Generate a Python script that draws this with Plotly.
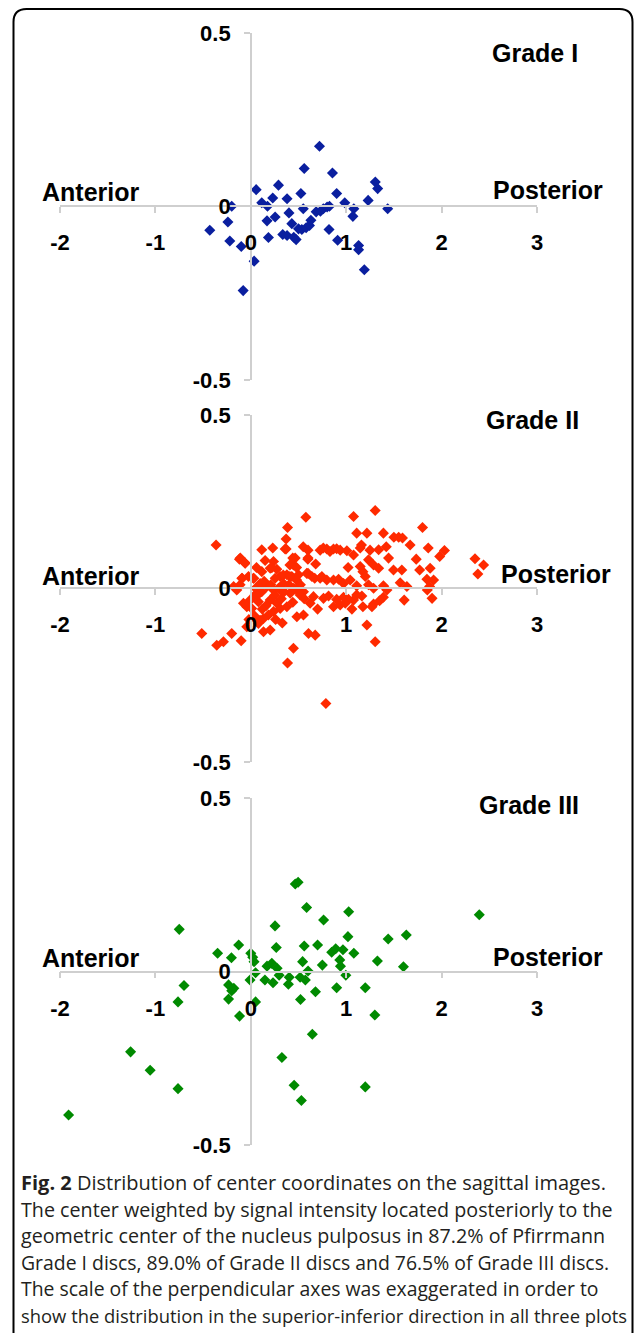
import plotly.graph_objects as go

W, H = 634, 1333

# ---------------- data ----------------
grade1_x = [-0.43, -0.24, -0.20, -0.22, -0.10, -0.08, 0.035, 0.056, 0.115, 0.175, 0.17, 0.185,
            0.23, 0.255, 0.29, 0.335, 0.38, 0.40, 0.38, 0.43, 0.45, 0.475, 0.50, 0.525, 0.55,
            0.535, 0.56, 0.58, 0.615, 0.63, 0.685, 0.73, 0.72, 0.76, 0.80, 0.825, 0.82, 0.856,
            0.90, 0.91, 0.985, 1.08, 1.07, 1.13, 1.13, 1.19, 1.23, 1.305, 1.33, 1.435]
grade1_y = [-0.069, -0.045, 0.0, -0.10, -0.116, -0.243, -0.158, 0.048, 0.01, 0.0, -0.042, -0.09,
            0.024, -0.031, 0.061, -0.081, 0.022, -0.019, -0.084, -0.05, -0.089, -0.096, -0.065,
            0.037, -0.007, -0.067, 0.109, -0.062, -0.055, -0.04, -0.016, -0.014, 0.173, -0.007,
            -0.002, 0.0, -0.067, 0.096, 0.037, -0.098, 0.01, -0.007, -0.029, -0.113, -0.125,
            -0.183, 0.017, 0.07, 0.051, -0.007]

grade2_x = [1.304, 1.077, 0.577, 0.385, 1.80, 1.11, 1.217, 1.39, 1.50, 1.55, 1.59, 0.37, -0.364,
            1.67, 1.16, 1.86, 0.37, 0.115, 0.23, 0.55, 0.727, 0.797, 0.867, 0.937, 1.007, 1.077,
            1.147, 1.34, 2.03, 1.98, 2.35, 2.44, 2.38, -0.119, -0.059, 0.238, 0.465, 0.447, 0.598,
            1.234, 1.287, 1.34, 1.444, 1.734, 1.88, 1.77, 1.496, 1.583, 1.147, 1.175, 0.203, 0.273,
            0.115, 0.028, -0.024, -0.094, -0.112, -0.147, -0.18, 0.308, 0.378, 0.43, 0.50, 0.587,
            0.64, 0.727, 0.797, 0.867, 0.92, 0.972, 1.042, 1.11, 1.20, 1.234, 1.287, 1.39, 1.427,
            1.566, 1.636, 1.846, 1.916, 1.874, 1.85, 1.90, 1.608, 1.39, 1.35, 1.287, 1.27, 1.164,
            1.11, 1.077, 1.024, 0.972, 0.90, 1.175, 1.217, 1.304, 0.762, 0.815, 0.867, 0.937, 0.99,
            0.622, 0.657, 0.552, 0.483, 0.413, 0.517, 0.343, 0.308, 0.238, 0.168, 0.115, 0.098,
            0.203, 0.273, 0.308, 0.378, 0.238, 0.185, 0.133, 0.098, -0.007, 0.045, 0.08, 0.01,
            -0.042, -0.077, 0.08, -0.042, 0.133, 0.203, 0.483, 0.552, 0.605, 0.675, 0.447, 0.385,
            0.787, -0.514, -0.357, -0.287, -0.20, -0.101, 0.36, 0.60, 0.60, 0.76, 0.83, 0.90,
            -0.11, -0.06, 0.22, 0.44, 0.41, 0.03, -0.09, 0.255, 0.34, 0.41, 0.48, 0.60, 0.67, 0.745,
            0.05, 0.07, 0.14, 0.16, 0.21, 0.25, 0.29, 0.32, 0.35, 0.40, 0.45, 0.52, 0.56, 0.44,
            0.12, 0.26, 0.33, 0.06, 0.15, 0.48, 0.68, 1.02, 1.25, 1.42, 1.06, 0.70, 0.04, -0.02]
grade2_y = [0.224, 0.207, 0.205, 0.175, 0.175, 0.159, 0.159, 0.159, 0.147, 0.147, 0.145, 0.142,
            0.125, 0.125, 0.125, 0.116, 0.113, 0.111, 0.116, 0.120, 0.11, 0.113, 0.113, 0.11, 0.108,
            0.096, 0.116, 0.111, 0.109, 0.092, 0.085, 0.067, 0.041, 0.084, 0.072, 0.077, 0.087,
            0.067, 0.084, 0.082, 0.067, 0.058, 0.087, 0.084, 0.058, 0.053, 0.053, 0.053, 0.063,
            0.048, 0.058, 0.055, 0.048, 0.029, 0.034, 0.029, 0.01, -0.005, 0.005, 0.034, 0.039,
            0.034, 0.039, 0.043, 0.034, 0.029, 0.024, 0.024, 0.026, 0.014, 0.024, 0.007, 0.034,
            0.01, 0.0, 0.007, -0.005, 0.016, 0.005, 0.026, 0.024, 0.005, -0.005, -0.029, -0.034,
            -0.026, -0.036, -0.045, -0.053, -0.022, -0.019, -0.034, -0.032, -0.026, -0.032, -0.053,
            -0.106, -0.154, -0.029, -0.022, -0.053, -0.048, -0.043, -0.043, -0.024, -0.01, -0.005,
            -0.014, -0.019, 0.014, -0.005, -0.005, 0.005, -0.01, 0.014, -0.034, -0.043, -0.058,
            -0.053, -0.067, -0.077, -0.087, -0.092, -0.034, -0.019, -0.039, -0.058, -0.053, -0.043,
            -0.101, -0.111, -0.125, -0.12, -0.082, -0.077, -0.13, -0.135, -0.173, -0.215, -0.332,
            -0.13, -0.164, -0.154, -0.13, -0.151, 0.113, 0.11, 0.087, 0.116, 0.106, 0.114, 0.087,
            0.073, 0.059, 0.087, 0.067, 0.029, 0.029, 0.029, 0.038, 0.034, 0.024, 0.043, 0.029, 0.034,
            0.0, -0.02, 0.02, -0.05, 0.01, -0.02, 0.0, -0.03, -0.01, 0.01, 0.0, 0.01, -0.03, -0.04,
            -0.06, -0.09, -0.1, 0.06, 0.08, 0.06, 0.07, 0.06, 0.11, 0.12, -0.06, -0.06, -0.08, -0.09]

grade3_x = [-1.91, -1.26, -1.055, -0.763, -0.75, -0.70, -0.763, -0.348, -0.203, -0.127, -0.233,
            -0.20, -0.178, -0.233, -0.118, 0.0, 0.02, 0.034, 0.05, -0.008, 0.05, 0.148, 0.17, 0.22,
            0.233, 0.254, 0.267, 0.276, 0.297, 0.326, 0.403, 0.394, 0.454, 0.466, 0.496, 0.517,
            0.521, 0.53, 0.543, 0.56, 0.572, 0.585, 0.60, 0.645, 0.678, 0.70, 0.75, 0.763, 0.848,
            0.89, 0.90, 0.933, 0.94, 0.966, 0.996, 1.018, 1.026, 1.08, 1.20, 1.20, 1.30, 1.327,
            1.44, 1.60, 1.63, 2.395]
grade3_y = [-0.413, -0.231, -0.284, -0.337, 0.122, -0.040, -0.087, 0.053, 0.040, 0.077, -0.038,
            -0.055, -0.048, -0.079, -0.128, 0.053, 0.042, 0.029, -0.003, -0.024, -0.087, -0.024,
            0.016, 0.024, -0.032, 0.132, 0.070, 0.010, -0.010, -0.247, -0.016, -0.036, -0.327,
            0.253, 0.258, -0.016, -0.080, -0.371, 0.029, 0.074, -0.024, 0.185, 0.002, -0.18,
            -0.058, 0.077, 0.019, 0.149, 0.056, 0.066, -0.046, 0.034, 0.016, 0.063, -0.01, 0.101,
            0.173, 0.053, -0.046, -0.332, -0.125, 0.031, 0.094, 0.014, 0.106, 0.164]

grade_names = ["Grade I", "Grade II", "Grade III"]
colors = ["#0a1f9f", "#ff2a00", "#008a00"]
x_ticks = [-2, -1, 0, 1, 2, 3]
x_tick_labels = ["-2", "-1", "0", "1", "2", "3"]
y_ticks = [-0.5, 0, 0.5]
y_tick_labels = ["-0.5", "0", "0.5"]
x_range = [-2, 3]
y_range = [-0.5, 0.5]

caption_lines = [
    "<b>Fig. 2</b> Distribution of center coordinates on the sagittal images.",
    "The center weighted by signal intensity located posteriorly to the",
    "geometric center of the nucleus pulposus in 87.2% of Pfirrmann",
    "Grade I discs, 89.0% of Grade II discs and 76.5% of Grade III discs.",
    "The scale of the perpendicular axes was exaggerated in order to",
    "show the distribution in the superior-inferior direction in all three plots",
]
caption_sizes = [20, 19.7, 19.7, 19.4, 19.4, 18.4]

# ---------------- layout geometry (pixels) ----------------
X0, X1 = 60.0, 537.0           # x = -2 .. 3
ZERO_X_PX = 250.8              # x = 0
zero_y_px = [206.3, 588.3, 971.7]
half_h = 173.5

fig = go.Figure()
data = [(grade1_x, grade1_y), (grade2_x, grade2_y), (grade3_x, grade3_y)]

FONT = "Liberation Sans, Arial, sans-serif"
for i, ((xs, ys), col) in enumerate(zip(data, colors)):
    n = "" if i == 0 else str(i + 1)
    fig.add_trace(go.Scatter(
        x=xs, y=ys, mode="markers", xaxis="x" + n, yaxis="y" + n,
        marker=dict(symbol="diamond", size=8.5, color=col, line=dict(width=0)),
        showlegend=False, hoverinfo="skip"))
    zy = zero_y_px[i]
    ydom = [1 - (zy + half_h) / H, 1 - (zy - half_h) / H]
    fig.layout["xaxis" + n] = dict(
        domain=[X0 / W, X1 / W], range=x_range, anchor="free", position=1 - zy / H,
        automargin=False,
        showline=True, linecolor="#cfcfcf", linewidth=1.5, showgrid=False, zeroline=False,
        ticks="outside", ticklen=6, tickcolor="#cfcfcf", tickwidth=1.5,
        tickvals=x_ticks, ticktext=x_tick_labels, ticklabelstandoff=11,
        tickfont=dict(family=FONT, size=22, color="black", weight="bold"), fixedrange=True)
    fig.layout["yaxis" + n] = dict(
        domain=ydom, range=y_range, anchor="free", position=ZERO_X_PX / W,
        automargin=False,
        showline=True, linecolor="#cfcfcf", linewidth=1.5, showgrid=False, zeroline=False,
        ticks="outside", ticklen=6, tickcolor="#cfcfcf", tickwidth=1.5,
        tickvals=y_ticks, ticktext=y_tick_labels, ticklabelstandoff=9,
        tickfont=dict(family=FONT, size=22, color="black", weight="bold"), fixedrange=True)

# ---------------- text labels ----------------
lab_font = dict(family=FONT, size=25, color="black", weight="bold")
anterior_pos = [(40, 192), (40, 576), (40, 958)]
posterior_pos = [(491, 190), (499, 574), (491, 957)]
grade_pos = [(534.5, 53), (532, 420), (528.5, 805)]
ann = []
for i in range(3):
    ax_, ay_ = anterior_pos[i]
    ann.append(dict(text="Anterior", x=ax_ / W, y=1 - ay_ / H, xref="paper", yref="paper",
                    xanchor="left", yanchor="middle", showarrow=False, font=lab_font))
    px_, py_ = posterior_pos[i]
    ann.append(dict(text="Posterior", x=px_ / W, y=1 - py_ / H, xref="paper", yref="paper",
                    xanchor="left", yanchor="middle", showarrow=False, font=lab_font))
    gx_, gy_ = grade_pos[i]
    ann.append(dict(text=grade_names[i], x=gx_ / W, y=1 - gy_ / H, xref="paper", yref="paper",
                    xanchor="center", yanchor="middle", showarrow=False, font=lab_font))

cap_y0, cap_dy = 1182.5, 26.6
for k, line in enumerate(caption_lines):
    ann.append(dict(text=line, x=19 / W, y=1 - (cap_y0 + k * cap_dy) / H, xref="paper",
                    yref="paper", xanchor="left", yanchor="middle", showarrow=False,
                    font=dict(family="Open Sans, sans-serif", size=caption_sizes[k],
                              color="#231f20")))

# ---------------- rounded border ----------------
r = 13
L, T, R, B = 13.5, 9.0, 632.5, 1345.0
def px(x): return x / W
def py(y): return 1 - y / H
path = (f"M {px(L + r)},{py(T)} L {px(R - r)},{py(T)} Q {px(R)},{py(T)} {px(R)},{py(T + r)} "
        f"L {px(R)},{py(B - r)} Q {px(R)},{py(B)} {px(R - r)},{py(B)} "
        f"L {px(L + r)},{py(B)} Q {px(L)},{py(B)} {px(L)},{py(B - r)} "
        f"L {px(L)},{py(T + r)} Q {px(L)},{py(T)} {px(L + r)},{py(T)} Z")
fig.add_shape(type="path", path=path, xref="paper", yref="paper",
              line=dict(color="black", width=2))

fig.update_layout(width=W, height=H, margin=dict(l=0, r=0, t=0, b=0, autoexpand=False),
                  autosize=False, paper_bgcolor="white", plot_bgcolor="white",
                  annotations=ann)

fig.write_html("out.html", config={"displayModeBar": False},
               post_script="document.body.style.margin='0';document.body.style.padding='0';"
                           "document.body.style.overflow='hidden';")
